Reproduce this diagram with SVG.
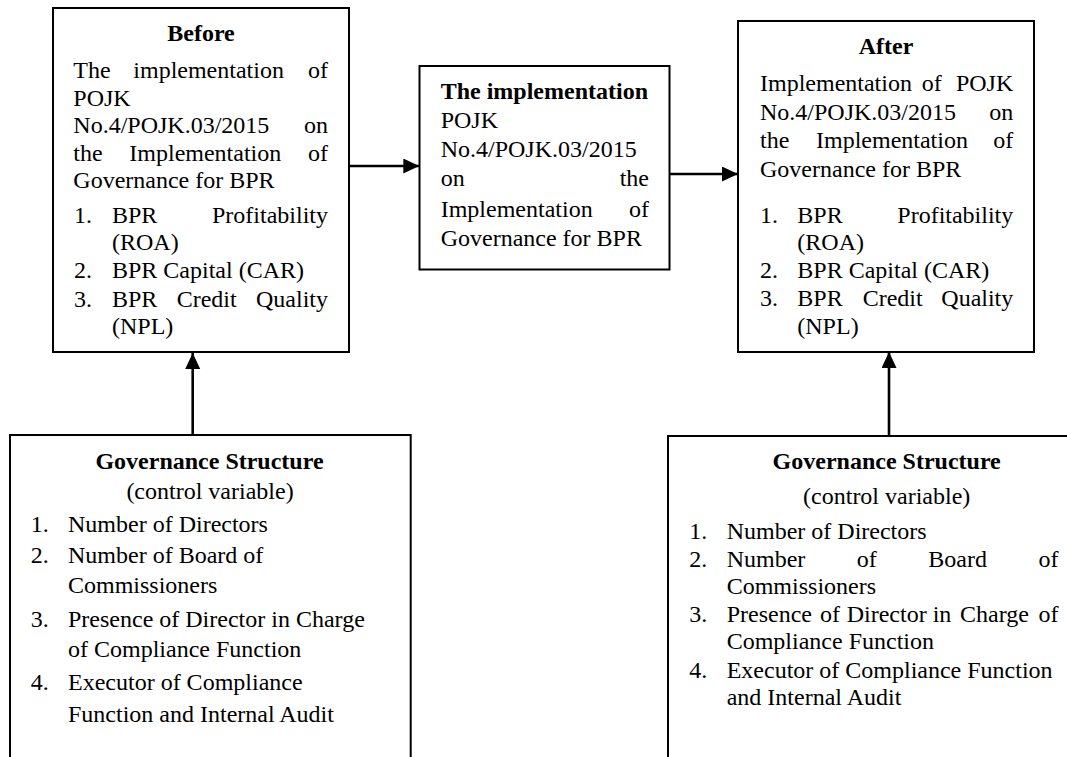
<svg xmlns="http://www.w3.org/2000/svg" width="1067" height="757" viewBox="0 0 1067 757">
<style>
.box{fill:#fff;stroke:#000;stroke-width:2}
.t{font-family:"Liberation Serif","Times New Roman",serif;font-size:24px;fill:#000}
.b{font-weight:bold}
.c{text-anchor:middle}
.e{text-anchor:end}
.conn{stroke:#000;stroke-width:2.6;fill:none;marker-end:url(#ah)}
</style>
<defs>
<marker id="ah" markerUnits="userSpaceOnUse" markerWidth="17" markerHeight="16" refX="16" refY="7.5" orient="auto">
<path d="M0,0 L16,7.5 L0,15 Z" fill="#000"/>
</marker>
</defs>
<rect width="1067" height="757" fill="#fff"/>

<g id="before">
<rect class="box" x="53" y="8" width="296" height="344"/>
<text class="t b c" x="201" y="40.5">Before</text>
<text class="t" x="73.3" y="78.3">The</text>
<text class="t" x="133.3" y="78.3">implementation</text>
<text class="t e" x="328" y="78.3">of</text>
<text class="t" x="73.3" y="106">POJK</text>
<text class="t" x="73.3" y="133">No.4/POJK.03/2015</text>
<text class="t e" x="328" y="133">on</text>
<text class="t" x="73.3" y="160.5">the</text>
<text class="t" x="129.3" y="160.5">Implementation</text>
<text class="t e" x="328" y="160.5">of</text>
<text class="t" x="73.3" y="188">Governance for BPR</text>
<text class="t" x="74" y="222.7">1.</text>
<text class="t" x="112" y="222.7">BPR</text>
<text class="t e" x="328" y="222.7">Profitability</text>
<text class="t" x="112" y="250">(ROA)</text>
<text class="t" x="74" y="278.3">2.</text>
<text class="t" x="112" y="278.3">BPR Capital (CAR)</text>
<text class="t" x="74" y="306.5">3.</text>
<text class="t" x="112" y="306.5">BPR</text>
<text class="t" x="176.7" y="306.5">Credit</text>
<text class="t e" x="328" y="306.5">Quality</text>
<text class="t" x="112" y="334">(NPL)</text>
</g>

<g id="implementation">
<rect class="box" x="419.5" y="66" width="250" height="203.5"/>
<text class="t b" x="440.7" y="98.5">The implementation</text>
<text class="t" x="440.7" y="127.7">POJK</text>
<text class="t" x="440.7" y="156.8">No.4/POJK.03/2015</text>
<text class="t" x="440.7" y="186.3">on</text>
<text class="t e" x="649" y="186.3">the</text>
<text class="t" x="440.7" y="216.5">Implementation</text>
<text class="t e" x="649" y="216.5">of</text>
<text class="t" x="440.7" y="245.8">Governance for BPR</text>
</g>

<g id="after">
<rect class="box" x="738" y="21" width="296" height="331"/>
<text class="t b c" x="886" y="53.5">After</text>
<text class="t" x="760" y="91">Implementation</text>
<text class="t" x="921.7" y="91">of</text>
<text class="t e" x="1013.3" y="91">POJK</text>
<text class="t" x="760" y="119.5">No.4/POJK.03/2015</text>
<text class="t e" x="1013.3" y="119.5">on</text>
<text class="t" x="760" y="148">the</text>
<text class="t" x="816" y="148">Implementation</text>
<text class="t e" x="1013.3" y="148">of</text>
<text class="t" x="760" y="177">Governance for BPR</text>
<text class="t" x="760" y="222.7">1.</text>
<text class="t" x="797.3" y="222.7">BPR</text>
<text class="t e" x="1013.3" y="222.7">Profitability</text>
<text class="t" x="797.3" y="250">(ROA)</text>
<text class="t" x="760" y="278.3">2.</text>
<text class="t" x="797.3" y="278.3">BPR Capital (CAR)</text>
<text class="t" x="760" y="306.3">3.</text>
<text class="t" x="797.3" y="306.3">BPR</text>
<text class="t" x="862.7" y="306.3">Credit</text>
<text class="t e" x="1013.3" y="306.3">Quality</text>
<text class="t" x="797.3" y="334">(NPL)</text>
</g>

<g id="governance-left">
<rect class="box" x="10" y="435" width="400.7" height="340"/>
<text class="t b c" x="209.5" y="469.3">Governance Structure</text>
<text class="t c" x="210" y="499.3">(control variable)</text>
<text class="t" x="30.7" y="531.7">1.</text>
<text class="t" x="68" y="531.7">Number of Directors</text>
<text class="t" x="30.7" y="563.3">2.</text>
<text class="t" x="68" y="563.3">Number of Board of</text>
<text class="t" x="68" y="593.3">Commissioners</text>
<text class="t" x="30.7" y="626.7">3.</text>
<text class="t" x="68" y="626.7">Presence of Director in Charge</text>
<text class="t" x="68" y="657.3">of Compliance Function</text>
<text class="t" x="30.7" y="690">4.</text>
<text class="t" x="68" y="690">Executor of Compliance</text>
<text class="t" x="68" y="721.7">Function and Internal Audit</text>
</g>

<g id="governance-right">
<rect class="box" x="668" y="436" width="420" height="340"/>
<text class="t b c" x="886.7" y="469.3">Governance Structure</text>
<text class="t c" x="886.7" y="504">(control variable)</text>
<text class="t" x="689.3" y="539.3">1.</text>
<text class="t" x="726.7" y="539.3">Number of Directors</text>
<text class="t" x="689.3" y="566.7">2.</text>
<text class="t" x="726.7" y="566.7">Number</text>
<text class="t" x="856.7" y="566.7">of</text>
<text class="t" x="928.3" y="566.7">Board</text>
<text class="t e" x="1058.5" y="566.7">of</text>
<text class="t" x="726.7" y="594">Commissioners</text>
<text class="t" x="689.3" y="621.7">3.</text>
<text class="t" x="726.7" y="621.7">Presence</text>
<text class="t" x="820" y="621.7">of</text>
<text class="t" x="846.7" y="621.7">Director</text>
<text class="t" x="932.7" y="621.7">in</text>
<text class="t" x="960" y="621.7">Charge</text>
<text class="t e" x="1058.5" y="621.7">of</text>
<text class="t" x="726.7" y="649.3">Compliance Function</text>
<text class="t" x="689.3" y="677.7">4.</text>
<text class="t" x="726.7" y="677.7">Executor of Compliance Function</text>
<text class="t" x="726.7" y="705">and Internal Audit</text>
</g>

<g id="connectors">
<line class="conn" x1="349" y1="166" x2="419.3" y2="166"/>
<line class="conn" x1="669.5" y1="174" x2="738" y2="174"/>
<line class="conn" x1="192.7" y1="435" x2="192.7" y2="353"/>
<line class="conn" x1="889" y1="436" x2="889" y2="352"/>
</g>
</svg>
